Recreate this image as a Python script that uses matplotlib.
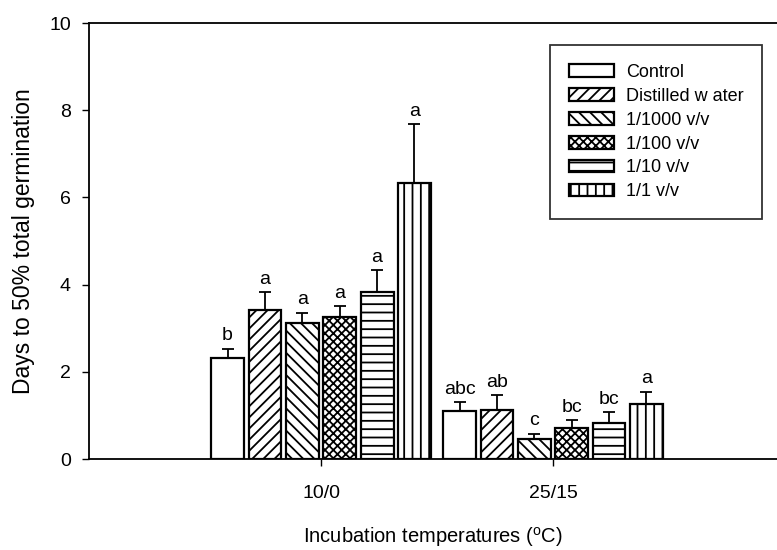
import matplotlib
matplotlib.use("Agg")
import matplotlib.pyplot as plt
import numpy as np

plt.rcParams['font.family'] = ['Liberation Sans', 'DejaVu Sans']
plt.rcParams['mathtext.fontset'] = 'custom'
plt.rcParams['mathtext.rm'] = 'Liberation Sans'
plt.rcParams['hatch.linewidth'] = 1.3

groups = ['10/0', '25/15']
treatments = ['Control', 'Distilled w ater', '1/1000 v/v', '1/100 v/v', '1/10 v/v', '1/1 v/v']
means = {
    'Control':          [2.31, 1.10],
    'Distilled w ater': [3.42, 1.13],
    '1/1000 v/v':       [3.11, 0.45],
    '1/100 v/v':        [3.26, 0.72],
    '1/10 v/v':         [3.83, 0.83],
    '1/1 v/v':          [6.32, 1.27],
}
errors = {
    'Control':          [0.22, 0.21],
    'Distilled w ater': [0.40, 0.33],
    '1/1000 v/v':       [0.25, 0.13],
    '1/100 v/v':        [0.24, 0.17],
    '1/10 v/v':         [0.50, 0.25],
    '1/1 v/v':          [1.36, 0.27],
}
letters = {
    'Control':          ['b', 'abc'],
    'Distilled w ater': ['a', 'ab'],
    '1/1000 v/v':       ['a', 'c'],
    '1/100 v/v':        ['a', 'bc'],
    '1/10 v/v':         ['a', 'bc'],
    '1/1 v/v':          ['a', 'a'],
}
hatches = ['', '///', '\\\\\\', 'xxxx', '--', '||']

fig = plt.figure(figsize=(7.77, 5.5), dpi=100)
ax = fig.add_axes([89/777, 91/550, 688/777, 436/550])

x = np.array([1, 2])
step = 0.161
width = 0.142
for i, t in enumerate(treatments):
    pos = x + (i - 2.5) * step
    ax.bar(pos, means[t], width=width, color='white', edgecolor='black',
           linewidth=1.6, hatch=hatches[i], label=t, zorder=2)
    ax.errorbar(pos, means[t], yerr=[np.zeros(2), errors[t]], fmt='none',
                ecolor='black', elinewidth=1.3, capsize=4, capthick=1.3, zorder=3)
    for p, m, e, l in zip(pos, means[t], errors[t], letters[t]):
        ax.text(p, m + e + 0.1, l, ha='center', va='bottom', fontsize=14)

ax.set_xlim(0, 688/232)
ax.set_ylim(0, 10)
ax.set_yticks([0, 2, 4, 6, 8, 10])
ax.set_xticks(x)
ax.set_xticklabels(groups)
ax.tick_params(axis='both', labelsize=14, direction='out', width=1, length=5, colors='black')
ax.tick_params(axis='x', pad=14)
ax.tick_params(axis='y', pad=8)
ax.spines['right'].set_visible(False)
for s in ['left', 'bottom', 'top']:
    ax.spines[s].set_linewidth(1.3)

ax.set_ylabel('Days to 50% total germination', fontsize=16.5, labelpad=10)
ax.set_xlabel(r'Incubation temperatures ($\mathregular{^{o}}$C)', fontsize=14.5, labelpad=16)

leg = ax.legend(loc='upper left', bbox_to_anchor=(550/777, 1 - 45/550), bbox_transform=fig.transFigure,
                fontsize=13, frameon=True, fancybox=False, edgecolor='black',
                handlelength=2.5, handleheight=0.7, labelspacing=0.38, handletextpad=0.65,
                borderpad=1.05, borderaxespad=0)
leg.get_frame().set_linewidth(1.3)

fig.savefig('out.png', dpi=100)
